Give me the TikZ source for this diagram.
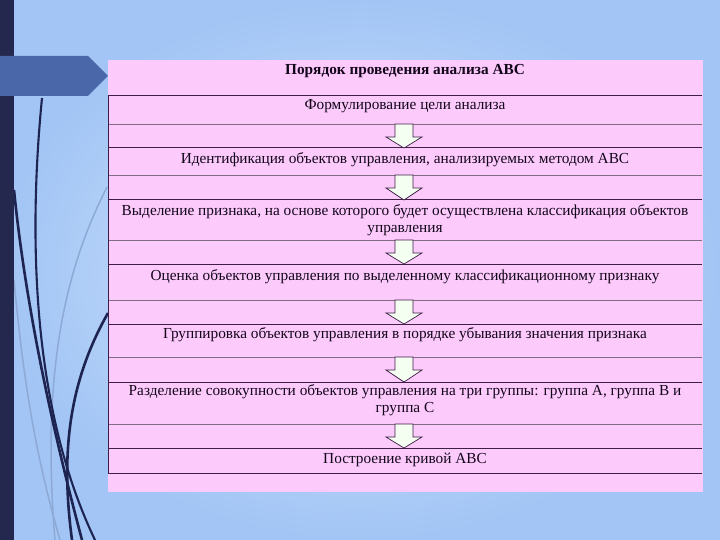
\documentclass[tikz,border=0pt]{standalone}
\usepackage{fontspec}
\setmainfont{Liberation Serif}
\definecolor{bgin}{HTML}{D6E7FC}
\definecolor{bgout}{HTML}{A2C5F5}
\definecolor{barc}{HTML}{24284F}
\definecolor{pentc}{HTML}{4A67A9}
\definecolor{pinkc}{HTML}{FDCAFC}
\definecolor{linec}{HTML}{3E1E45}
\definecolor{textc}{HTML}{12061A}
\definecolor{curvec}{HTML}{1E2452}
\definecolor{lightc}{HTML}{8EA9D6}
\definecolor{arrowfill}{HTML}{F4FFF2}
\newcommand\blkarrow[2]{%
  \filldraw[dnarrow] (395,#1) -- (413,#1) -- (413,{#1+13}) -- (422,{#1+13}) -- (404,#2)
    -- (386,{#1+13}) -- (395,{#1+13}) -- cycle;}
\begin{document}
\begin{tikzpicture}[x=1pt,y=-1pt,
  rowline/.style={draw=linec, line width=1pt},
  lightline/.style={draw=linec!65, line width=0.7pt},
  txt/.style={font=\fontsize{15.3}{17}\selectfont, text=textc, align=center, inner sep=0pt},
  dnarrow/.style={draw=linec, line width=0.7pt, fill=arrowfill},
  darkcurve/.style={draw=curvec, line width=2.6pt},
  lightcurve/.style={draw=lightc, line width=1.5pt}]
\useasboundingbox (0,0) rectangle (720,540);
\shade[inner color=bgin, outer color=bgout] (0,0) rectangle (720,540);
% decorative curves
\draw[lightcurve] (107,187) .. controls (70,260) and (40,360) .. (55,540);
\draw[lightcurve] (14,280) .. controls (25,400) and (40,470) .. (60,540);
\draw[darkcurve] (14,190) .. controls (25,300) and (50,420) .. (82,540);
\draw[darkcurve, line width=2.1pt] (42,98) .. controls (30,220) and (28,400) .. (95,540);
\draw[darkcurve] (108,313) .. controls (70,380) and (60,450) .. (72,540);
\fill[barc] (0,0) rectangle (14,540);
\fill[pentc] (0,56) -- (88,56) -- (108,76) -- (88,96) -- (0,96) -- cycle;
% table
\fill[pinkc] (108,60) rectangle (703,492);
\foreach \y in {96,148,200,264,324,382,448,473} \draw[rowline] (108,\y) -- (702,\y);
\foreach \y in {124,175,240,300,357,424} \draw[lightline] (108,\y) -- (702,\y);
\draw[rowline] (108,96) -- (108,473);
% texts
\node[txt, font=\fontsize{15.3}{17}\selectfont\bfseries] (t0) at (405,71) {Порядок проведения анализа ABC};
\node[txt] (t1) at (405,106.5) {Формулирование цели анализа};
\node[txt] (t2) at (405,159.5) {Идентификация объектов управления, анализируемых методом ABC};
\node[txt] (t3) at (405,220.5) {Выделение признака, на основе которого будет осуществлена классификация объектов\\управления};
\node[txt] (t4) at (405,276.5) {Оценка объектов управления по выделенному классификационному признаку};
\node[txt] (t5) at (405,334.5) {Группировка объектов управления в порядке убывания значения признака};
\node[txt] (t6) at (405,400.5) {Разделение совокупности объектов управления на три группы: группа А, группа В и\\группа С};
\node[txt] (t7) at (405,459.5) {Построение кривой ABC};
% arrows
\blkarrow{124}{148}
\blkarrow{175}{200}
\blkarrow{240}{264}
\blkarrow{300}{324}
\blkarrow{357}{382}
\blkarrow{424}{448}
\end{tikzpicture}
\end{document}
